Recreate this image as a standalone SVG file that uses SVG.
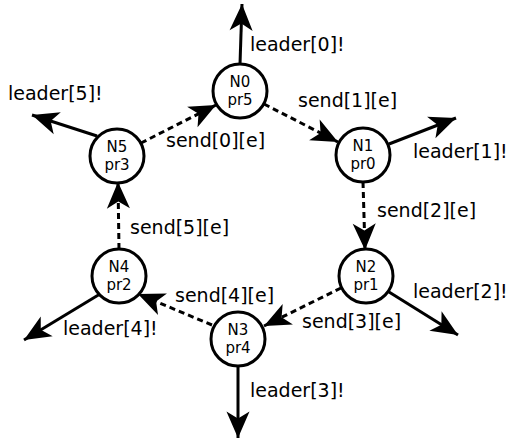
<svg xmlns="http://www.w3.org/2000/svg" width="510" height="439" viewBox="0 0 510 439">
<style>
.node ellipse{fill:#fff;stroke:#000;stroke-width:3}
.nl{font-family:"DejaVu Sans",sans-serif;font-size:15px;text-anchor:middle;fill:#000}
.el{font-family:"DejaVu Sans",sans-serif;font-size:19px;fill:#000}
.e{stroke:#000;stroke-width:3;fill:none;marker-end:url(#ah)}
.d{stroke-dasharray:6,4}
</style>
<defs>
<marker id="ah" markerUnits="userSpaceOnUse" markerWidth="30" markerHeight="30" viewBox="-24 -12 26 24" refX="0" refY="0" orient="auto">
<path d="M0,0 L-23,-10 L-17,0 L-23,10 Z" fill="#000"/>
</marker>
</defs>
<rect width="510" height="439" fill="#fff"/>
<g id="connectors">
<line class="e" x1="240" y1="64" x2="242" y2="4"/>
<line class="e" x1="97" y1="136" x2="32" y2="115"/>
<line class="e" x1="389" y1="144" x2="456" y2="118"/>
<line class="e" x1="389" y1="292" x2="458" y2="335"/>
<line class="e" x1="238" y1="366" x2="238" y2="438"/>
<line class="e" x1="100" y1="294" x2="24" y2="340"/>
<line class="e d" x1="264" y1="104" x2="338" y2="142"/>
<line class="e d" x1="363" y1="182" x2="365" y2="250"/>
<line class="e d" x1="341" y1="288" x2="264" y2="326"/>
<line class="e d" x1="212" y1="325" x2="138" y2="294"/>
<line class="e d" x1="119" y1="249" x2="118" y2="182"/>
<line class="e d" x1="141" y1="143" x2="216" y2="105"/>
<text class="el" x="250" y="51">leader[0]!</text>
<text class="el" x="8" y="100">leader[5]!</text>
<text class="el" x="298" y="107">send[1][e]</text>
<text class="el" x="166" y="147">send[0][e]</text>
<text class="el" x="413" y="158">leader[1]!</text>
<text class="el" x="377" y="217">send[2][e]</text>
<text class="el" x="130" y="234">send[5][e]</text>
<text class="el" x="413" y="298">leader[2]!</text>
<text class="el" x="175" y="302">send[4][e]</text>
<text class="el" x="302" y="328">send[3][e]</text>
<text class="el" x="63" y="335">leader[4]!</text>
<text class="el" x="250" y="397">leader[3]!</text>
</g>
<g id="N0" class="node"><ellipse cx="240" cy="91" rx="27" ry="27"/><text class="nl" x="240" y="87">N0</text><text class="nl" x="240" y="105">pr5</text></g>
<g id="N1" class="node"><ellipse cx="363" cy="155" rx="27" ry="27"/><text class="nl" x="363" y="151">N1</text><text class="nl" x="363" y="169">pr0</text></g>
<g id="N2" class="node"><ellipse cx="366" cy="276" rx="27" ry="27"/><text class="nl" x="366" y="272">N2</text><text class="nl" x="366" y="290">pr1</text></g>
<g id="N3" class="node"><ellipse cx="238" cy="339" rx="27" ry="27"/><text class="nl" x="238" y="335">N3</text><text class="nl" x="238" y="353">pr4</text></g>
<g id="N4" class="node"><ellipse cx="119" cy="276" rx="27" ry="27"/><text class="nl" x="119" y="272">N4</text><text class="nl" x="119" y="290">pr2</text></g>
<g id="N5" class="node"><ellipse cx="117" cy="156" rx="27" ry="27"/><text class="nl" x="117" y="152">N5</text><text class="nl" x="117" y="170">pr3</text></g>
</svg>
